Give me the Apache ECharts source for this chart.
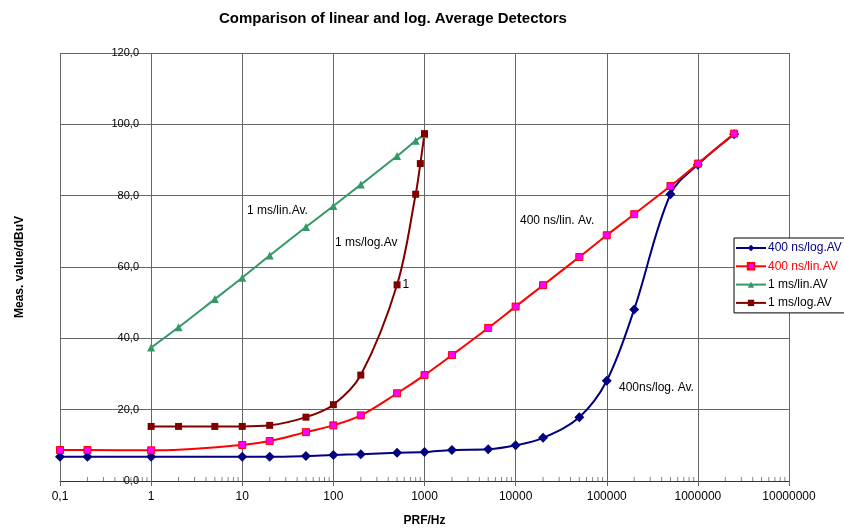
<!DOCTYPE html>
<html>
<head>
<meta charset="utf-8">
<script src="https://cdn.jsdelivr.net/npm/echarts@6/dist/echarts.min.js"></script>
<style>html,body{margin:0;padding:0;background:#fff}#c{width:844px;height:532px}</style>
</head>
<body>
<div id="c"></div>
<script>
// ---- data ----
const seriesNames = ['400 ns/log.AV', '400 ns/lin.AV', '1 ms/lin.AV', '1 ms/log.AV'];

const navyFreq = [0.1, 0.2, 1, 10, 20, 50, 100, 200, 500, 1000, 2000, 5000, 10000, 20000, 50000, 100000, 200000, 500000, 1000000, 2500000];
const navyVals = [6.8, 6.8, 6.8, 6.8, 6.8, 7.0, 7.3, 7.5, 7.9, 8.1, 8.7, 8.9, 10.0, 12.1, 17.9, 28.1, 48.1, 80.4, 88.7, 97.2];

const redFreq = [0.1, 0.2, 1, 10, 20, 50, 100, 200, 500, 1000, 2000, 5000, 10000, 20000, 50000, 100000, 200000, 500000, 1000000, 2500000];
const redVals = [8.7, 8.7, 8.6, 10.1, 11.2, 13.7, 15.6, 18.4, 24.6, 29.7, 35.3, 42.9, 48.9, 54.9, 62.8, 68.9, 74.8, 82.7, 89.0, 97.4];

const greenFreq = [1, 2, 5, 10, 20, 50, 100, 200, 500, 800, 1000];
const greenVals = [37.4, 43.1, 51.0, 57.0, 63.2, 71.2, 77.1, 83.1, 91.1, 95.4, 97.2];

const maroonFreq = [1, 2, 5, 10, 20, 50, 100, 200, 500, 800, 900, 1000];
const maroonVals = [15.3, 15.3, 15.3, 15.3, 15.6, 17.9, 21.4, 29.7, 55.0, 80.4, 89.0, 97.4];

const xTickLabels = {0.1: '0,1', 1: '1', 10: '10', 100: '100', 1000: '1000', 10000: '10000', 100000: '100000', 1000000: '1000000', 10000000: '10000000'};
const minorMultipliers = [2, 3, 4, 5, 6, 7, 8, 9];
const decades = [0.1, 1, 10, 100, 1000, 10000, 100000, 1000000];

const annotations = [
  {text: '1 ms/lin.Av.', x: 247, y: 212},
  {text: '1 ms/log.Av', x: 335, y: 244},
  {text: '400 ns/lin. Av.', x: 520, y: 222},
  {text: '400ns/log. Av.', x: 619, y: 389}
];

// ---- build ----
const zip = (xs, ys) => xs.map((x, i) => [x, ys[i]]);
const FONT = 'Liberation Sans, Arial, sans-serif';
const GRID = '#666';

const minorTicks = [];
decades.forEach(d => minorMultipliers.forEach(m => minorTicks.push([+(d * m).toPrecision(3), 0])));

const maroonData = zip(maroonFreq, maroonVals).map((p, i) =>
  maroonFreq[i] === 500 ? {value: p, label: {show: true, position: 'right', distance: 2, formatter: '1', color: '#000', fontSize: 12, fontFamily: FONT}} : p);

const chart = echarts.init(document.getElementById('c'), null, {renderer: 'canvas'});
chart.setOption({
  animation: false,
  backgroundColor: '#fff',
  title: {
    text: 'Comparison of linear and log. Average Detectors',
    left: 219, top: 11, padding: 0,
    textStyle: {fontFamily: FONT, fontSize: 15, fontWeight: 'bold', color: '#000'}
  },
  grid: {left: 60, right: 55, top: 53, bottom: 47, containLabel: false},
  legend: {
    orient: 'vertical', left: 734, top: 238,
    padding: [3, 30, 3, 1],
    itemWidth: 30, itemHeight: 8, itemGap: 4.3,
    borderColor: '#000', borderWidth: 1, backgroundColor: '#fff',
    textStyle: {fontFamily: FONT, fontSize: 12, lineHeight: 14, color: '#000', padding: [0, 0, 0, -3]},
    data: [
      {name: seriesNames[0], textStyle: {color: '#000080'}},
      {name: seriesNames[1], textStyle: {color: '#FF0000'}},
      {name: seriesNames[2]},
      {name: seriesNames[3]}
    ]
  },
  xAxis: {
    type: 'log', logBase: 10, min: 0.1, max: 10000000,
    name: 'PRF/Hz', nameLocation: 'middle', nameGap: 34,
    nameTextStyle: {fontFamily: FONT, fontSize: 12, fontWeight: 'bold', color: '#000'},
    axisLine: {show: true, lineStyle: {color: '#333', width: 1}},
    axisTick: {show: true, length: 5, lineStyle: {color: GRID}},
    splitLine: {show: true, lineStyle: {color: GRID, width: 1}},
    axisLabel: {
      margin: 10, fontFamily: FONT, fontSize: 12, color: '#000',
      formatter: v => { const k = +(+v).toPrecision(3); return xTickLabels[k] !== undefined ? xTickLabels[k] : ''; }
    }
  },
  yAxis: {
    type: 'value', min: 0, max: 120, interval: 20,
    name: 'Meas. value/dBuV', nameLocation: 'middle', nameGap: 34, nameRotate: 90,
    nameTextStyle: {fontFamily: FONT, fontSize: 12, fontWeight: 'bold', color: '#000'},
    axisLine: {show: false}, axisTick: {show: false},
    splitLine: {show: true, lineStyle: {color: GRID, width: 1}},
    axisLabel: {
      margin: -79, fontFamily: FONT, fontSize: 11, color: '#000',
      formatter: v => v.toFixed(1).replace('.', ',')
    }
  },
  graphic: annotations.map(a => ({
    type: 'text', left: a.x, top: a.y - 7, silent: true,
    style: {text: a.text, font: '12px ' + FONT, fill: '#000'}
  })),
  series: [
    {
      name: 'minorTicks', type: 'scatter', silent: true, data: minorTicks,
      symbol: 'rect', symbolSize: [1, 4], symbolOffset: [0, -2],
      itemStyle: {color: '#666'}, z: 1, legendHoverLink: false
    },
    {
      name: seriesNames[0], type: 'line', data: zip(navyFreq, navyVals), smooth: 0.35,
      symbol: 'diamond', symbolSize: 10, showAllSymbol: true,
      lineStyle: {color: '#000080', width: 2}, itemStyle: {color: '#000080'}
    },
    {
      name: seriesNames[1], type: 'line', data: zip(redFreq, redVals), smooth: 0.35,
      symbol: 'rect', symbolSize: 7, showAllSymbol: true,
      lineStyle: {color: '#FF0000', width: 2},
      itemStyle: {color: '#FF00FF', borderColor: '#FF0000', borderWidth: 1}
    },
    {
      name: seriesNames[2], type: 'line', data: zip(greenFreq, greenVals), smooth: 0.35,
      symbol: 'triangle', symbolSize: 8, showAllSymbol: true,
      lineStyle: {color: '#339966', width: 2}, itemStyle: {color: '#339966'}
    },
    {
      name: seriesNames[3], type: 'line', data: maroonData, smooth: 0.35,
      symbol: 'rect', symbolSize: 7, showAllSymbol: true,
      lineStyle: {color: '#800000', width: 2}, itemStyle: {color: '#800000'}
    }
  ]
});
</script>
</body>
</html>
